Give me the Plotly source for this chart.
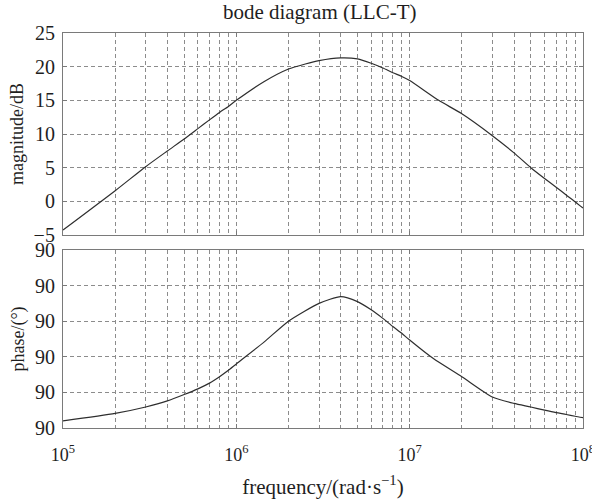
import plotly.graph_objects as go
from plotly.subplots import make_subplots

# magnitude curve: frequency (rad/s) and dB
mag_freq = [1e5, 2e5, 3e5, 4e5, 5e5, 6e5, 7e5, 8e5, 9e5, 1e6, 1.45e6, 2e6, 2.5e6, 3e6, 4e6, 5e6, 6e6,
            7e6, 8e6, 9e6, 1e7, 1.47e7, 2e7, 3e7, 4e7, 5e7, 6e7, 7e7, 8e7, 9e7, 1e8]
mag_db = [-4.26, 1.58, 5.15, 7.48, 9.26, 10.8, 12.1, 13.2, 14.1, 15.0, 17.8, 19.65, 20.4, 20.9, 21.3, 21.15, 20.5,
          19.8, 19.1, 18.55, 17.95, 15.0, 13.0, 9.75, 7.2, 5.0, 3.4, 2.1, 0.95, -0.05, -1.0]

# phase curve: frequency and position in grid units of the phase axis (every gridline is labelled "90")
ph_freq = [1e5, 2e5, 3e5, 4e5, 5e5, 6e5, 7e5, 8e5, 9e5, 1e6, 1.45e6, 2e6, 3e6, 4e6, 5e6, 6e6, 7e6, 8e6, 9e6,
           1e7, 1.37e7, 2e7, 3e7, 4e7, 5e7, 6e7, 7e7, 8e7, 9e7, 1e8]
ph_val = [0.2, 0.41, 0.59, 0.76, 0.94, 1.1, 1.26, 1.44, 1.62, 1.8, 2.42, 3.0, 3.5, 3.69, 3.55, 3.32, 3.08, 2.85, 2.66,
          2.47, 1.95, 1.44, 0.87, 0.69, 0.59, 0.5, 0.43, 0.38, 0.33, 0.29]

mag_ticks = [-5, 0, 5, 10, 15, 20, 25]
ph_ticks = [0, 1, 2, 3, 4, 5]
ph_ticktext = ["90", "90", "90", "90", "90", "90"]
x_major = [1e5, 1e6, 1e7, 1e8]
x_major_text = ["10<sup>5</sup>", "10<sup>6</sup>", "10<sup>7</sup>", "10<sup>8</sup>"]
x_minor = [m * 10 ** d for d in (5, 6, 7) for m in range(2, 10)]

FONT = "Liberation Serif"
TXT = "#1e1e1e"
GRID = "#8c8c8c"
FRAME = "#7a7a7a"

fig = make_subplots(rows=2, cols=1, vertical_spacing=0.0)

fig.add_trace(go.Scatter(x=mag_freq, y=mag_db, mode="lines",
                         line=dict(color="#2e2e2e", width=1.2, shape="spline", smoothing=0.6),
                         showlegend=False), row=1, col=1)
fig.add_trace(go.Scatter(x=ph_freq, y=ph_val, mode="lines",
                         line=dict(color="#2e2e2e", width=1.2, shape="spline", smoothing=0.6),
                         showlegend=False), row=2, col=1)

gridstyle = dict(showgrid=True, gridcolor=GRID, griddash="4px,3px", gridwidth=1,
                 showline=True, linecolor=FRAME, linewidth=1.2, mirror="ticks",
                 ticks="inside", ticklen=4, tickcolor=FRAME, zeroline=False, automargin=False)

fig.update_xaxes(type="log", range=[5, 8], tickvals=x_major, ticktext=x_major_text,
                 minor=dict(tickvals=x_minor, showgrid=True, gridcolor=GRID, griddash="4px,3px",
                            gridwidth=1, ticks=""),
                 ticklabeloverflow="allow", **gridstyle)
fig.update_xaxes(showticklabels=False, row=1, col=1)
fig.update_xaxes(showticklabels=True, tickfont=dict(family=FONT, size=18, color=TXT), ticklabelstandoff=10,
                 title=dict(text="frequency/(rad·s<sup>−1</sup>)", font=dict(family=FONT, size=21, color=TXT),
                            standoff=15),
                 row=2, col=1)

fig.update_yaxes(range=[-5, 25], tickvals=mag_ticks, tickfont=dict(family=FONT, size=20, color=TXT),
                 ticklabelstandoff=3,
                 title=dict(text="magnitude/dB", font=dict(family=FONT, size=18, color=TXT), standoff=5),
                 row=1, col=1, **gridstyle)
fig.update_yaxes(range=[0, 5], tickvals=ph_ticks, ticktext=ph_ticktext, tickfont=dict(family=FONT, size=20, color=TXT),
                 ticklabelstandoff=3,
                 title=dict(text="phase/(°)", font=dict(family=FONT, size=18, color=TXT), standoff=5),
                 row=2, col=1, **gridstyle)

fig.update_layout(
    width=592, height=502,
    margin=dict(l=63, r=9, t=33, b=74),
    paper_bgcolor="white", plot_bgcolor="white",
    title=dict(text="bode diagram (LLC-T)", x=0.54, xanchor="center", y=0.976, yanchor="middle",
               font=dict(family=FONT, size=21, color=TXT)),
    yaxis=dict(domain=[0.4886, 1.0]), yaxis2=dict(domain=[0.0, 0.4506]),
)

fig.write_html("out.html", config={"displayModeBar": False},
               post_script="document.body.style.margin='0px';document.body.style.padding='0px';")
